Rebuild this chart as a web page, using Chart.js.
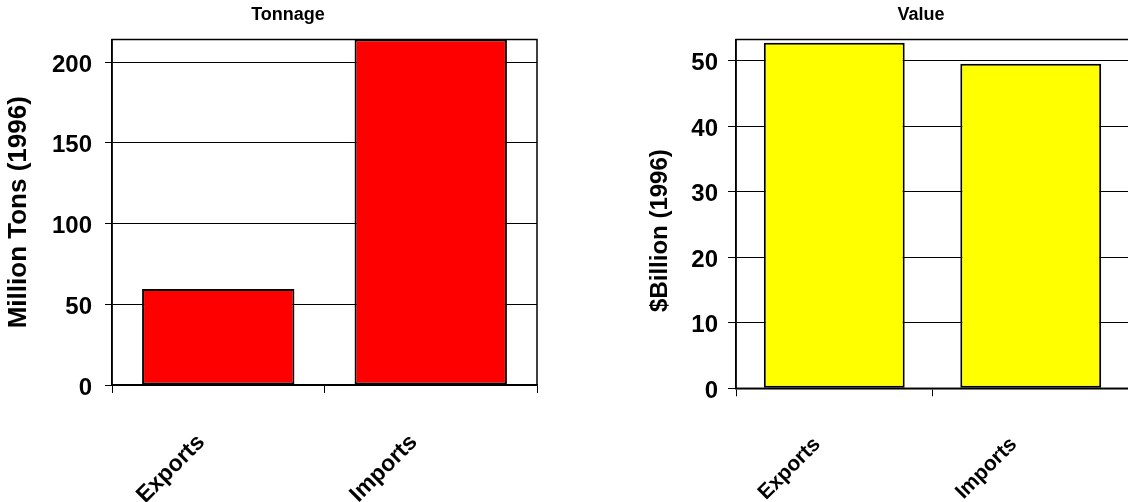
<!DOCTYPE html>
<html><head><meta charset="utf-8">
<script src="https://cdn.jsdelivr.net/npm/chart.js@4/dist/chart.umd.min.js"></script>
<style>
html,body{margin:0;padding:0;background:#fff;overflow:hidden;width:1128px;height:502px;position:relative;}
#w1{position:absolute;left:0;top:0;width:576px;height:502px;}
#w2{position:absolute;left:640px;top:0;width:562px;height:502px;}
</style></head><body>
<div id="w1"><canvas id="c1"></canvas></div>
<div id="w2"><canvas id="c2"></canvas></div>
<script>
const categories = ['Exports', 'Imports'];
const tonnageValues = [59.4, 214];
const valueValues = [52.7, 49.5];
const tonnageTicks = [0, 50, 100, 150, 200];
const valueTicks = [0, 10, 20, 30, 40, 50];

const FONT = "'Liberation Sans', Arial, sans-serif";

const framePlugin = {
  id: 'frame',
  beforeDatasetsDraw(chart) {
    const a = chart.chartArea, ctx = chart.ctx;
    ctx.save();
    ctx.strokeStyle = '#000';
    ctx.lineWidth = 1.5;
    ctx.strokeRect(a.left, a.top, a.right - a.left, a.bottom - a.top);
    ctx.restore();
  }
};

function makeChart(id, o) {
  return new Chart(document.getElementById(id), {
    type: 'bar',
    data: {
      labels: categories,
      datasets: [{
        data: o.values,
        backgroundColor: o.color,
        borderColor: '#000',
        borderWidth: 2,
        borderSkipped: false,
        categoryPercentage: 1,
        barPercentage: 0.717,
        yAxisID: 'y'
      }]
    },
    options: {
      responsive: true,
      maintainAspectRatio: false,
      devicePixelRatio: 1,
      animation: false,
      layout: { padding: 0 },
      plugins: {
        legend: { display: false },
        tooltip: { enabled: false },
        title: {
          display: true,
          text: o.title,
          color: '#000',
          font: { family: FONT, size: 18, weight: 'bold', lineHeight: 1.2 },
          padding: { top: 4, bottom: 13.9 }
        }
      },
      scales: {
        x: {
          offset: true,
          grid: { offset: true, drawOnChartArea: false, tickLength: 8, color: '#000', lineWidth: 1 },
          border: { display: true, color: '#000', width: 1.5 },
          ticks: {
            color: '#000',
            font: { family: FONT, size: o.xFont, weight: 'bold' },
            minRotation: 45, maxRotation: 45, autoSkip: false,
            labelOffset: -17,
            padding: o.xPad
          },
          afterFit: s => { s.height = o.xHeight; }
        },
        y: {
          position: 'left',
          min: 0,
          max: o.max,
          afterBuildTicks: s => { s.ticks = o.ticks.map(v => ({ value: v })); },
          grid: { color: '#000', lineWidth: 1, tickLength: o.yTick },
          border: { display: true, color: '#000', width: 1.5 },
          ticks: {
            color: '#000',
            font: { family: FONT, size: 24, weight: 'bold' },
            padding: o.yPad,
            labelOffset: 3
          },
          title: {
            display: true,
            text: o.yTitle,
            color: '#000',
            font: { family: FONT, size: o.yTitleFont, weight: 'bold', lineHeight: 1.2 },
            padding: { top: o.yTitlePad, bottom: 0 }
          },
          afterFit: s => { s.width = o.yWidth; }
        },
        yr: {
          position: 'right',
          display: true,
          grid: { display: false },
          border: { display: false },
          ticks: { display: false },
          afterFit: s => { s.width = o.rightWidth; }
        }
      }
    },
    plugins: [framePlugin]
  });
}

makeChart('c1', {
  values: tonnageValues, color: '#FF0000', title: 'Tonnage', yTitle: 'Million Tons (1996)',
  max: 214, ticks: tonnageTicks, rightWidth: 39,
  xHeight: 117, xPad: 36, xFont: 23, yTick: 7, yPad: 13, yWidth: 112, yTitlePad: 3, yTitleFont: 26
});
makeChart('c2', {
  values: valueValues, color: '#FFFF00', title: 'Value', yTitle: '$Billion (1996)     ',
  max: 53.2, ticks: valueTicks, rightWidth: 73,
  xHeight: 113.7, xPad: 36, xFont: 21, yTick: 8, yPad: 10, yWidth: 96, yTitlePad: 6, yTitleFont: 24
});
</script>
</body></html>
